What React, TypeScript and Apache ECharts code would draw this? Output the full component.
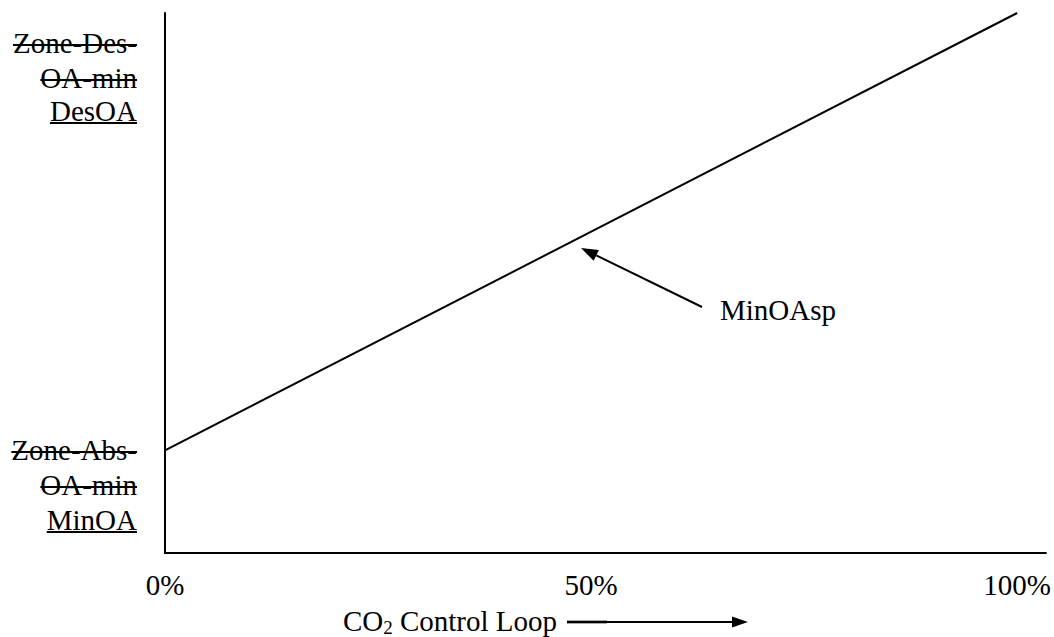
import React, { useEffect, useRef } from 'react';
import * as echarts from 'echarts';

// ---- data ----
const xTickValues = [0, 50, 100];
const loopPercent = [0, 100];
const minOAspValues = [19, 100];
const yLabelsTop = ['Zone-Des-', 'OA-min', 'DesOA'];
const yLabelsBottom = ['Zone-Abs-', 'OA-min', 'MinOA'];
const xTitleParts = ['CO', '2', ' Control Loop'];
const annotationText = 'MinOAsp';

const FONT = 'Liberation Serif';
const FS = 29;

function fontStr(size: number) {
  return `${size}px "${FONT}", "Times New Roman", serif`;
}

function measure(text: string, size: number): number {
  const c = document.createElement('canvas').getContext('2d');
  if (!c) return text.length * size * 0.5;
  c.font = fontStr(size);
  return c.measureText(text).width;
}

function textEl(text: string, x: number, y: number, align: string, size = FS) {
  return {
    type: 'text',
    x,
    y,
    style: {
      text,
      fill: '#000',
      font: fontStr(size),
      align,
      textAlign: align,
      verticalAlign: 'middle',
      textVerticalAlign: 'middle',
    },
  };
}

function hline(x1: number, x2: number, y: number, w = 2, color = '#000') {
  return {
    type: 'line',
    shape: { x1, y1: y, x2, y2: y },
    style: { stroke: color, lineWidth: w },
  };
}

function buildGraphics() {
  const g: any[] = [];
  const right = 137;
  const blocks = [
    { labels: yLabelsTop, ys: [43, 78, 111] },
    { labels: yLabelsBottom, ys: [450, 485, 520] },
  ];
  blocks.forEach((b) => {
    b.labels.forEach((t, i) => {
      const y = b.ys[i];
      g.push(textEl(t, right, y, 'right'));
      const w = measure(t, FS);
      if (i < 2) g.push(hline(right - w, right, y + 2));
      else g.push(hline(right - w, right, y + 12));
    });
  });

  // annotation
  g.push(textEl(annotationText, 720, 310, 'left'));
  const tip = [581, 248];
  const tail = [702, 307];
  const dx = tail[0] - tip[0];
  const dy = tail[1] - tip[1];
  const len = Math.sqrt(dx * dx + dy * dy);
  const ux = dx / len;
  const uy = dy / len;
  const bx = tip[0] + 17 * ux;
  const by = tip[1] + 17 * uy;
  const px = -uy * 6;
  const py = ux * 6;
  g.push({
    type: 'line',
    shape: { x1: tail[0], y1: tail[1], x2: bx, y2: by },
    style: { stroke: '#000', lineWidth: 2 },
  });
  g.push({
    type: 'polygon',
    shape: { points: [tip, [bx + px, by + py], [bx - px, by - py]] },
    style: { fill: '#000' },
  });

  // x title with subscript
  const wCO = measure(xTitleParts[0], FS);
  const w2 = measure(xTitleParts[1], 19);
  const wRest = measure(xTitleParts[2], FS);
  const titleEnd = 557;
  const x0 = titleEnd - (wCO + w2 + wRest);
  g.push(textEl(xTitleParts[0], x0, 621, 'left'));
  g.push(textEl(xTitleParts[1], x0 + wCO, 627, 'left', 19));
  g.push(textEl(xTitleParts[2], x0 + wCO + w2, 621, 'left'));

  // arrow after title
  g.push({
    type: 'rect',
    shape: { x: 567, y: 620.5, width: 40, height: 3 },
    style: { fill: '#555' },
  });
  g.push(hline(567, 734, 622, 2));
  g.push({
    type: 'polygon',
    shape: { points: [[748, 622], [732, 616.5], [732, 627.5]] },
    style: { fill: '#000' },
  });
  return g;
}

export default function App() {
  const ref = useRef<HTMLDivElement>(null);
  useEffect(() => {
    if (!ref.current) return;
    const chart = echarts.init(ref.current, null, { renderer: 'svg' });
    const gridLeft = 165;
    const xEndPx = 1025;
    const width = 1054;
    const xMax = (100 * (width - gridLeft)) / (xEndPx - gridLeft);
    chart.setOption({
      animation: false,
      backgroundColor: '#fff',
      textStyle: { fontFamily: FONT },
      grid: { left: gridLeft, right: 0, top: 13, bottom: 84, containLabel: false },
      xAxis: {
        type: 'value',
        min: 0,
        max: xMax,
        interval: 50,
        axisLine: { show: true, onZero: false, lineStyle: { color: '#000', width: 2 } },
        axisTick: { show: false },
        splitLine: { show: false },
        axisLabel: {
          color: '#000',
          fontSize: FS,
          fontFamily: FONT,
          margin: 17,
          showMaxLabel: false,
          formatter: (v: number) => (xTickValues.includes(v) ? v + '%' : ''),
        },
      },
      yAxis: {
        type: 'value',
        min: 0,
        max: 100,
        axisLine: { show: true, onZero: false, lineStyle: { color: '#000', width: 2 } },
        axisTick: { show: false },
        splitLine: { show: false },
        axisLabel: { show: false },
      },
      series: [
        {
          type: 'line',
          data: loopPercent.map((x, i) => [x, minOAspValues[i]]),
          symbol: 'none',
          lineStyle: { color: '#000', width: 2 },
          silent: true,
        },
      ],
      graphic: buildGraphics(),
    });
    return () => chart.dispose();
  }, []);
  return (
    <div
      ref={ref}
      style={{ position: 'fixed', left: 0, top: 0, width: 1054, height: 637, background: '#fff' }}
    />
  );
}
